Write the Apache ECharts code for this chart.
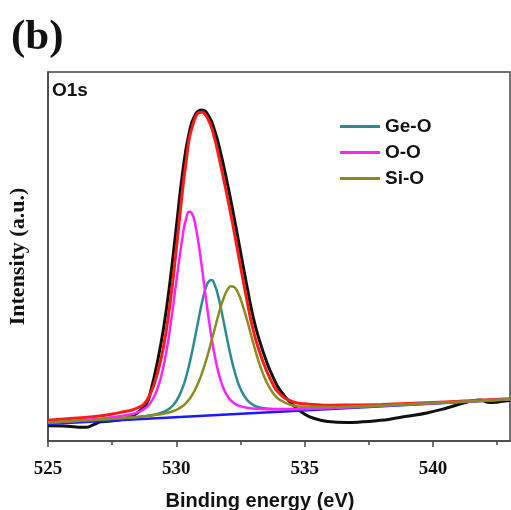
<!DOCTYPE html>
<html>
<head>
<meta charset="utf-8">
<script src="https://cdn.jsdelivr.net/npm/echarts@6/dist/echarts.min.js"></script>
<style>
  html, body { margin: 0; padding: 0; background: #fff; }
  #chart { width: 511px; height: 510px; }
</style>
</head>
<body>
<div id="chart"></div>
<script>
// O1s XPS spectrum: measured curve, linear background and three fitted components.

// Energy grid of the fitted curves (eV), finer around the peak maxima
const energyFit = [525, 526, 527, 527.5, 528, 528.25, 528.5, 528.75, 529, 529.25, 529.5, 529.75,
  530, 530.25, 530.375, 530.5, 530.625, 530.75, 530.875, 531, 531.125, 531.25, 531.375, 531.5,
  531.625, 531.75, 531.875, 532, 532.125, 532.25, 532.375, 532.5,
  532.75, 533, 533.25, 533.5, 533.75, 534, 534.5, 535, 535.5, 536, 537, 538, 539, 540, 541, 542, 543];

// Fitted components (background included), arbitrary units
const geO = [4.95, 5.35, 5.75, 6.0, 6.25, 6.38, 6.53, 6.74, 6.99, 7.33, 7.87, 8.87,
  10.84, 14.54, 17.27, 20.64, 24.54, 28.83, 33.33, 37.52, 40.99, 43.13, 43.64, 42.21,
  39.41, 35.50, 31.23, 26.89, 22.86, 19.33, 16.43, 14.15,
  11.19, 9.74, 9.10, 8.83, 8.70, 8.64, 8.64, 8.69, 8.79, 8.91, 9.21, 9.53, 9.87, 10.22, 10.58, 10.94, 11.30];
const ooO = [4.95, 5.45, 6.05, 6.45, 6.95, 7.26, 7.79, 8.66, 10.39, 13.84, 20.22, 30.26,
  43.25, 55.74, 60.11, 62.14, 61.48, 58.23, 53.1, 46.82, 40.14, 33.71, 27.92, 23.01,
  19.01, 15.98, 13.71, 12.11, 11.0, 10.24, 9.74, 9.41,
  9.01, 8.80, 8.69, 8.63, 8.59, 8.58, 8.62, 8.70, 8.82, 8.94, 9.23, 9.56, 9.89, 10.24, 10.59, 10.95, 11.31];
const siO = [5.05, 5.4, 5.8, 6.05, 6.3, 6.38, 6.49, 6.67, 6.87, 7.10, 7.40, 7.80,
  8.44, 9.50, 10.29, 11.31, 12.58, 14.18, 16.12, 18.42, 21.08, 24.01, 27.23, 30.51,
  33.8, 36.80, 39.31, 41.09, 41.96, 41.75, 40.57, 38.58,
  32.87, 26.46, 20.65, 16.22, 13.16, 11.28, 9.68, 9.28, 9.20, 9.21, 9.39, 9.65, 9.96, 10.29, 10.63, 10.98, 11.33];
const envelope = [5.6, 6.15, 6.8, 7.3, 8.0, 8.32, 9.01, 10.09, 13.0, 18.0, 25.5, 37.0,
  52.0, 68.5, 75.3, 81.8, 85.2, 87.78, 89.01, 89.12, 88.47, 87.01, 84.87, 81.71,
  78.1, 74.08, 69.95, 65.71, 61.34, 56.79, 52.08, 47.38,
  38.13, 29.88, 24.0, 19.3, 15.6, 13.0, 10.70, 10.07, 9.83, 9.72, 9.75, 9.92, 10.16, 10.45, 10.76, 11.09, 11.42];

// Linear background
const energyBg = [525, 543];
const background = [4.6, 11.26];

// Measured spectrum
const energyExp = [525, 525.6, 526.1, 526.45, 526.8, 527.05, 527.45, 527.95, 528.35, 528.6, 528.85,
  529, 529.25, 529.5, 529.75, 530, 530.25, 530.5, 530.75, 531, 531.25, 531.5, 531.75, 532,
  532.25, 532.5, 532.75, 533, 533.25, 533.5, 533.75, 534.04, 534.54, 534.93, 535.32, 535.9,
  536.65, 537.27, 537.8, 538.32, 538.99, 539.76, 540.54, 541.05, 541.56, 541.83, 542.22, 542.55, 542.88, 543];
const intensityExp = [4.15, 4.07, 3.8, 3.7, 4.5, 5.2, 5.4, 5.95, 7.05, 8.4, 10.2,
  13.5, 21.0, 30.5, 43.0, 58.0, 73.0, 83.5, 88.6, 89.7, 88.2, 84.0, 77.4, 69.4,
  60.6, 51.3, 42.0, 33.4, 27.0, 21.8, 17.6, 13.8, 9.76, 7.59, 6.23, 5.3,
  5.0, 5.2, 5.5, 5.9, 6.7, 7.59, 8.94, 10.03, 10.92, 11.11, 10.4, 10.6, 10.92, 11.0];

const majorTicks = [525, 530, 535, 540];
const minorTicks = [527.5, 532.5, 537.5, 542.5];

const pairs = (xs, ys) => xs.map((x, i) => [x, ys[i]]);

const axisColor = '#444';
const chart = echarts.init(document.getElementById('chart'), null, { renderer: 'canvas' });

function curve(name, xs, ys, color, width, z) {
  return {
    name, type: 'line', data: pairs(xs, ys), showSymbol: false, symbol: 'none',
    smooth: 0.5, z: z,
    lineStyle: { color, width }, itemStyle: { color },
    emphasis: { disabled: true }
  };
}

chart.setOption({
  animation: false,
  backgroundColor: '#fff',
  title: {
    text: '(b)', left: 6, top: 11,
    textStyle: { fontFamily: 'Liberation Serif', fontWeight: 'bold', fontSize: 43, color: '#111' }
  },
  grid: {
    left: 48, top: 72, right: 1, bottom: 69, containLabel: false, outerBoundsMode: 'none',
    show: true, borderColor: axisColor, borderWidth: 1.5
  },
  xAxis: [{
    type: 'value', min: 525, max: 543,
    name: 'Binding energy (eV)', nameLocation: 'middle', nameGap: 50,
    nameTextStyle: { fontFamily: 'Liberation Sans', fontWeight: 'bold', fontSize: 20, color: '#111', padding: [0, 38, 0, 0] },
    axisLine: { lineStyle: { color: axisColor, width: 1.5 } },
    axisTick: { customValues: majorTicks, length: 6, lineStyle: { color: axisColor, width: 1.5 } },
    axisLabel: { customValues: majorTicks, margin: 19, fontFamily: 'Liberation Serif', fontWeight: 'bold', fontSize: 19, color: '#111' },
    splitLine: { show: false }
  }, {
    type: 'value', min: 525, max: 543, position: 'bottom',
    axisLine: { show: false },
    axisTick: { customValues: minorTicks, length: 4, lineStyle: { color: axisColor, width: 1.5 } },
    axisLabel: { show: false },
    splitLine: { show: false }
  }],
  yAxis: {
    type: 'value', min: 0, max: 100,
    name: 'Intensity (a.u.)', nameLocation: 'middle', nameGap: 19, nameRotate: 90,
    nameTextStyle: { fontFamily: 'Liberation Serif', fontWeight: 'bold', fontSize: 22, color: '#111' },
    axisLine: { show: true, lineStyle: { color: axisColor, width: 1.5 } },
    axisTick: { show: false }, axisLabel: { show: false }, splitLine: { show: false }
  },
  legend: {
    data: ['Ge-O', 'O-O', 'Si-O'],
    orient: 'vertical', left: 335, top: 112,
    icon: 'rect', itemWidth: 40, itemHeight: 3, itemGap: 7,
    textStyle: { fontFamily: 'Liberation Sans', fontWeight: 'bold', fontSize: 19, color: '#111' }
  },
  graphic: [{
    type: 'text', left: 52, top: 81,
    style: { text: 'O1s', fontFamily: 'Liberation Sans', fontWeight: 'bold', fontSize: 19, fill: '#111' }
  }],
  series: [
    curve('Measured', energyExp, intensityExp, '#111', 3, 2),
    curve('Envelope', energyFit, envelope, '#ff1a1a', 3, 3),
    curve('Background', energyBg, background, '#1a1aff', 2.5, 4),
    curve('Ge-O', energyFit, geO, '#2a8c90', 2.5, 5),
    curve('O-O', energyFit, ooO, '#ff22ff', 2.5, 6),
    curve('Si-O', energyFit, siO, '#8c8c1e', 2.5, 7)
  ]
});
</script>
</body>
</html>
